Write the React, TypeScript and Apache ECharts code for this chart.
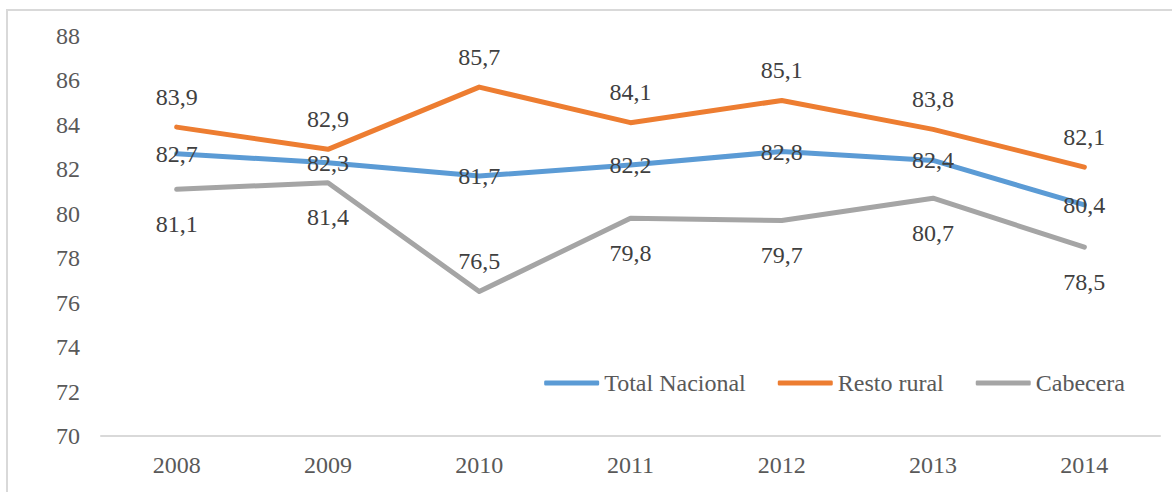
import React, { useEffect, useRef } from "react";
import * as echarts from "echarts";

const years = ["2008", "2009", "2010", "2011", "2012", "2013", "2014"];
const totalNacional = [82.7, 82.3, 81.7, 82.2, 82.8, 82.4, 80.4];
const restoRural = [83.9, 82.9, 85.7, 84.1, 85.1, 83.8, 82.1];
const cabecera = [81.1, 81.4, 76.5, 79.8, 79.7, 80.7, 78.5];
const cabeceraLabelPos = ["bottom", "bottom", "top", "bottom", "bottom", "bottom", "bottom"];

const FONT = "'Liberation Serif', 'Times New Roman', serif";
const FS = 24;
const fmt = (v: number) => v.toFixed(1).replace(".", ",");

export default function App() {
  const ref = useRef<HTMLDivElement>(null);
  useEffect(() => {
    if (!ref.current) return;
    const chart = echarts.init(ref.current, null, { renderer: "svg" });
    const labelBase = { show: true, fontFamily: FONT, fontSize: FS, color: "#404040", formatter: (p: any) => fmt(p.value) };
    chart.setOption({
      animation: false,
      graphic: [
        { type: "rect", shape: { x: 7, y: 10, width: 1200, height: 520 }, style: { fill: "none", stroke: "#d9d9d9", lineWidth: 2 }, silent: true },
      ],
      grid: { left: 101, right: 12, top: 36, bottom: 56 },
      legend: {
        right: 42,
        top: 366,
        itemGap: 32,
        itemWidth: 55,
        itemHeight: 5,
        icon: "roundRect",
        textStyle: { fontFamily: FONT, fontSize: FS, color: "#595959", padding: [0, 0, 0, 0] },
        data: ["Total Nacional", "Resto rural", "Cabecera"],
      },
      xAxis: {
        type: "category",
        data: years,
        boundaryGap: true,
        axisLine: { show: true, lineStyle: { color: "#d9d9d9", width: 2 } },
        axisTick: { show: false },
        axisLabel: { fontFamily: FONT, fontSize: FS, color: "#595959", margin: 17 },
        splitLine: { show: false },
      },
      yAxis: {
        type: "value",
        min: 70,
        max: 88,
        interval: 2,
        axisLine: { show: false },
        axisTick: { show: false },
        splitLine: { show: false },
        axisLabel: { fontFamily: FONT, fontSize: FS, color: "#595959", margin: 21 },
      },
      series: [
        {
          name: "Total Nacional",
          type: "line",
          data: totalNacional,
          symbol: "circle",
          symbolSize: 1,
          itemStyle: { color: "#5B9BD5" },
          lineStyle: { color: "#5B9BD5", width: 5, cap: "round", join: "round" },
          label: { ...labelBase, position: "inside" },
          z: 3,
        },
        {
          name: "Resto rural",
          type: "line",
          data: restoRural,
          symbol: "circle",
          symbolSize: 1,
          itemStyle: { color: "#ED7D31" },
          lineStyle: { color: "#ED7D31", width: 5, cap: "round", join: "round" },
          label: { ...labelBase, position: "top", distance: 18 },
          z: 2,
        },
        {
          name: "Cabecera",
          type: "line",
          data: cabecera.map((v, i) => ({
            value: v,
            label: { position: cabeceraLabelPos[i], distance: cabeceraLabelPos[i] === "top" ? 18 : 22 },
          })),
          symbol: "circle",
          symbolSize: 1,
          itemStyle: { color: "#A5A5A5" },
          lineStyle: { color: "#A5A5A5", width: 5, cap: "round", join: "round" },
          label: { ...labelBase },
          z: 1,
        },
      ],
    });
    return () => chart.dispose();
  }, []);
  return (
    <div
      ref={ref}
      style={{ position: "absolute", left: 0, top: 0, width: 1172, height: 492, background: "#fff" }}
    />
  );
}
